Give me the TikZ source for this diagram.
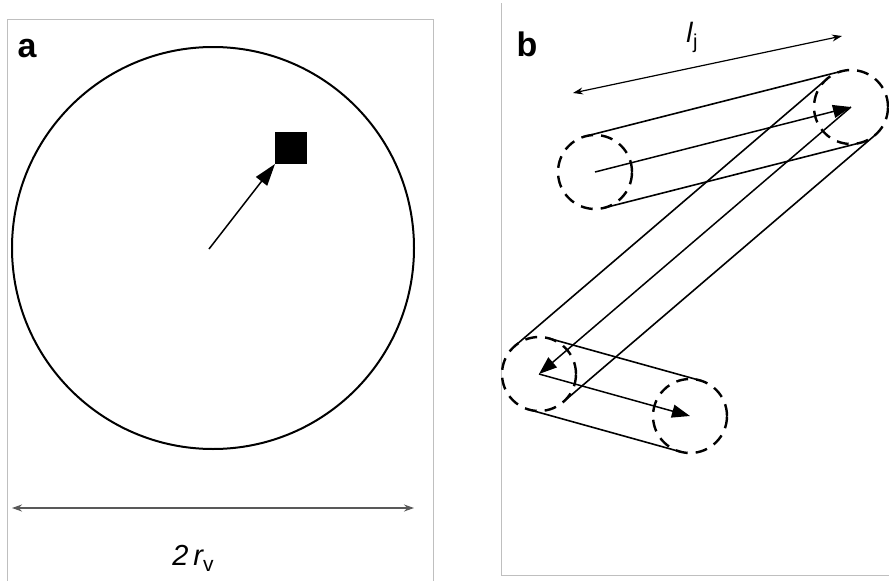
\documentclass[tikz,border=0pt]{standalone}
\usepackage{fontspec}
\setmainfont{Liberation Sans}
\usetikzlibrary{arrows.meta,calc}
\begin{document}
\begin{tikzpicture}[x=1pt,y=-1pt,
  frame/.style={draw=black!25,line width=1pt},
  jet/.style={draw,circle,dash pattern=on 12pt off 8pt,line width=2.4pt,inner sep=0pt,outer sep=0pt,minimum size=74pt},
  tube/.style={line width=1.6pt},
  flow/.style={line width=1.5pt,-{Triangle[length=18pt,width=13pt]}},
  dim/.style={line width=1.2pt,{Stealth[length=10pt,width=7pt]}-{Stealth[length=10pt,width=7pt]}},
  lab/.style={font=\bfseries\fontsize{34}{34}\selectfont,inner sep=0pt}
]
\useasboundingbox (0,0) rectangle (889,581);
% frames
\draw[frame] (7,581) -- (7,19) -- (433,19) -- (433,581);
\draw[frame] (501,3) -- (501,575) -- (889,575);
% panel a
\node[lab] (la) at (27,49) {a};
\node[draw,circle,line width=2pt,inner sep=0pt,outer sep=0pt,minimum size=402pt] (vol) at (213,248) {};
\node[fill=black,inner sep=0pt,outer sep=0pt,minimum size=32pt] (sq) at (291,148) {};
\coordinate (o) at (209,249);
\draw[line width=1.5pt,-{Triangle[length=22pt,width=14pt]}] (o) -- (sq.south west);
\coordinate (dl) at (12,508);
\coordinate (dr) at (414,508);
\draw[dim,draw=black!65] (dl) -- (dr);
\node[font=\fontsize{29}{29}\selectfont\itshape,inner sep=0pt,anchor=base] (rv) at (193,565) {2\,r\raisebox{-6pt}{\upshape\fontsize{21}{21}\selectfont v}};
% panel b
\node[lab] (lb) at (527,44) {b};
\node[font=\fontsize{28}{28}\selectfont,inner sep=0pt,anchor=base] (lj) at (692,42) {\textit{l}\raisebox{-6pt}{\fontsize{20}{20}\selectfont j}};
\coordinate (jl) at (573,93);
\coordinate (jr) at (842,36);
\draw[dim] (jl) -- (jr);
\node[jet] (UL) at (595,172) {};
\node[jet] (UR) at (851,107) {};
\node[jet] (LL) at (539,374) {};
\node[jet] (LR) at (690,416) {};
% upper tube
\draw[tube] (UL.104.25) -- (UR.104.25);
\draw[tube] (UL.-75.75) -- (UR.-75.75);
% diagonal tube
\draw[tube] (LL.130.56) -- (UR.130.56);
\draw[tube] (LL.-49.44) -- (UR.-49.44);
% lower tube
\draw[tube] (LL.74.46) -- (LR.74.46);
\draw[tube] (LL.-105.54) -- (LR.-105.54);
% flow arrows
\draw[flow] (UL.center) -- (UR.center);
\draw[flow] (UR.center) -- (LL.center);
\draw[flow] (LL.center) -- (LR.center);
\end{tikzpicture}
\end{document}
